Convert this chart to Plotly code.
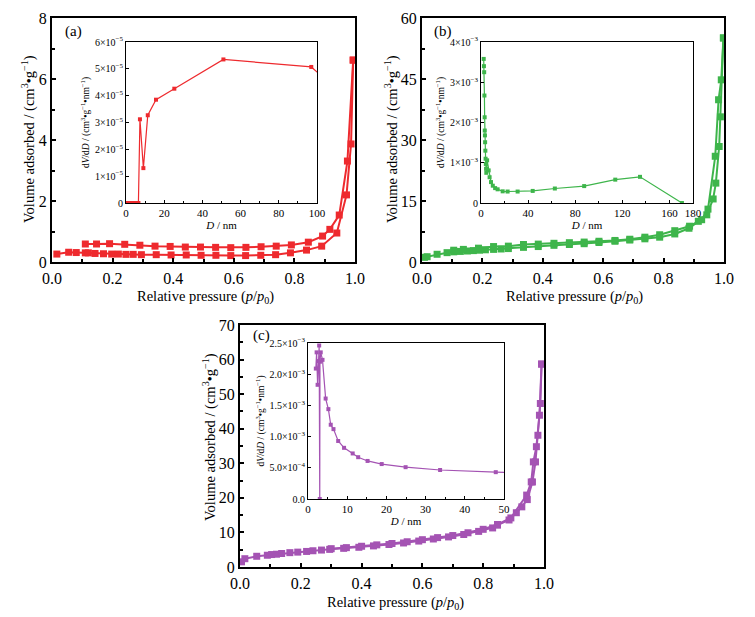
import plotly.graph_objects as go

# ---------------- data ----------------
# (a) isotherm
a_ads_p = [0.016, 0.055, 0.08, 0.11, 0.12, 0.142, 0.17, 0.197, 0.219, 0.244, 0.268, 0.295, 0.344,
           0.393, 0.443, 0.492, 0.541, 0.59, 0.639, 0.689, 0.738, 0.787, 0.84, 0.89, 0.94, 0.972,
           0.987, 0.994]
a_ads_v = [0.26, 0.32, 0.31, 0.30, 0.30, 0.28, 0.27, 0.26, 0.26, 0.25, 0.25, 0.24, 0.24,
           0.23, 0.23, 0.22, 0.22, 0.21, 0.21, 0.22, 0.24, 0.30, 0.39, 0.52, 0.95, 2.20,
           3.87, 6.62]
a_des_p = [0.994, 0.975, 0.948, 0.917, 0.893, 0.846, 0.79, 0.74, 0.69, 0.64, 0.59, 0.54, 0.49,
           0.44, 0.39, 0.34, 0.29, 0.24, 0.19, 0.147, 0.11]
a_des_v = [6.62, 3.31, 1.54, 1.07, 0.85, 0.65, 0.56, 0.52, 0.50, 0.48, 0.47, 0.48, 0.49,
           0.49, 0.51, 0.52, 0.55, 0.58, 0.60, 0.59, 0.59]
# (a) pore size distribution
a_psd_d = [0.5, 2.0, 3.5, 5.0, 6.5, 7.3, 9.1, 11.4, 15.7, 25.3, 51.0, 97.0, 104.0]
a_psd_v = [0, 0, 0, 0, 0, 3.12e-5, 1.30e-5, 3.27e-5, 3.85e-5, 4.26e-5, 5.35e-5, 5.07e-5, 4.63e-5]

# (b) isotherm
b_ads_p = [0.008, 0.017, 0.05, 0.083, 0.105, 0.127, 0.15, 0.17, 0.19, 0.21, 0.237, 0.262, 0.286,
           0.336, 0.385, 0.437, 0.488, 0.537, 0.586, 0.639, 0.688, 0.738, 0.787, 0.837, 0.884,
           0.915, 0.943, 0.964, 0.973, 0.984, 0.988, 0.998]
b_ads_v = [1.15, 1.3, 1.9, 2.3, 2.5, 2.6, 2.7, 2.8, 2.9, 3.0, 3.1, 3.2, 3.3,
           3.6, 3.8, 4.1, 4.3, 4.5, 4.8, 5.1, 5.4, 5.7, 6.1, 6.9, 8.3,
           10.0, 11.6, 15.5, 19.4, 28.4, 35.7, 55.1]
b_des_p = [0.998, 0.991, 0.982, 0.971, 0.947, 0.926, 0.886, 0.837, 0.787, 0.738, 0.688, 0.639,
           0.586, 0.537, 0.488, 0.437, 0.385, 0.336, 0.286, 0.237, 0.187, 0.137, 0.105]
b_des_v = [55.1, 44.8, 39.9, 26.0, 13.0, 10.4, 8.8, 7.7, 6.7, 6.1, 5.6, 5.3,
           5.1, 4.9, 4.75, 4.6, 4.4, 4.3, 3.9, 3.8, 3.4, 3.1, 2.9]
# (b) pore size distribution
b_psd_d = [2.3, 2.5, 2.7, 2.9, 3.1, 3.2, 3.35, 3.5, 3.7, 3.9, 4.1, 4.3, 4.5, 5.2, 6.5, 7.3, 8.5,
           10.0, 12.0, 14.1, 18.4, 22.6, 31.1, 43.9, 62.7, 87.6, 114.0, 135.0, 170.6]
b_psd_v = [3.58e-3, 3.40e-3, 3.25e-3, 2.67e-3, 2.13e-3, 1.80e-3, 1.68e-3, 1.51e-3, 1.30e-3,
           1.10e-3, 0.97e-3, 0.85e-3, 0.75e-3, 1.06e-3, 0.81e-3, 0.64e-3, 0.52e-3,
           0.43e-3, 0.37e-3, 0.34e-3, 0.29e-3, 0.285e-3, 0.285e-3, 0.30e-3, 0.36e-3, 0.42e-3,
           0.58e-3, 0.65e-3, 0.0]

# (c) isotherm
c_ads_p = [0.005, 0.016, 0.055, 0.09, 0.104, 0.12, 0.137, 0.164, 0.19, 0.219, 0.24, 0.268, 0.295,
           0.341, 0.391, 0.439, 0.49, 0.538, 0.588, 0.636, 0.686, 0.736, 0.785, 0.831, 0.847,
           0.885, 0.909, 0.927, 0.945, 0.962, 0.972, 0.98, 0.988, 0.992]
c_ads_v = [1.5, 2.4, 3.1, 3.4, 3.6, 3.7, 3.9, 4.15, 4.3, 4.5, 4.7, 4.9, 5.1,
           5.4, 5.7, 6.1, 6.5, 6.95, 7.5, 8.1, 8.7, 9.4, 10.3, 11.3, 12.1,
           13.6, 15.7, 17.4, 19.5, 24.6, 30.4, 38.1, 47.3, 58.7]
c_des_p = [0.992, 0.985, 0.975, 0.965, 0.958, 0.943, 0.891, 0.847, 0.8, 0.75, 0.7, 0.65, 0.6,
           0.55, 0.5, 0.45, 0.4, 0.35, 0.3]
c_des_v = [58.7, 43.9, 34.8, 30.4, 24.6, 20.8, 14.2, 12.3, 10.9, 9.9, 9.1, 8.5, 7.9,
           7.3, 6.8, 6.4, 6.0, 5.6, 5.3]
# (c) pore size distribution
c_psd_d = [2.0, 2.2, 2.45, 2.6, 2.85, 3.0, 3.05, 3.25, 3.7, 4.5, 5.2, 5.8, 6.5, 7.7, 9.2,
           11.4, 12.8, 15.2, 18.8, 24.9, 33.7, 47.9, 62.0]
c_psd_v = [2.09e-3, 2.35e-3, 1.83e-3, 2.21e-3, 2.46e-3, 0.0, 2.20e-3, 2.35e-3, 2.23e-3,
           1.61e-3, 1.44e-3, 1.19e-3, 1.12e-3, 0.93e-3, 0.82e-3, 0.73e-3, 0.67e-3, 0.61e-3,
           0.56e-3, 0.51e-3, 0.465e-3, 0.43e-3, 0.40e-3]

# tick labels
a_main_yticks = [0, 2, 4, 6, 8]
b_main_yticks = [0, 15, 30, 45, 60]
c_main_yticks = [0, 10, 20, 30, 40, 50, 60, 70]
main_xticks = [0.0, 0.2, 0.4, 0.6, 0.8, 1.0]
a_in_xticks = [0, 20, 40, 60, 80, 100]
b_in_xticks = [0, 40, 80, 120, 160, 180]
c_in_xticks = [0, 10, 20, 30, 40, 50]
a_in_yvals = [0, 1e-5, 2e-5, 3e-5, 4e-5, 5e-5, 6e-5]
a_in_ytext = ["0", "1×10<sup>−5</sup>", "2×10<sup>−5</sup>", "3×10<sup>−5</sup>",
              "4×10<sup>−5</sup>", "5×10<sup>−5</sup>", "6×10<sup>−5</sup>"]
b_in_yvals = [0, 1e-3, 2e-3, 3e-3, 4e-3]
b_in_ytext = ["0", "1×10<sup>−3</sup>", "2×10<sup>−3</sup>", "3×10<sup>−3</sup>", "4×10<sup>−3</sup>"]
c_in_yvals = [0, 5e-4, 1e-3, 1.5e-3, 2e-3, 2.5e-3]
c_in_ytext = ["0.0", "5.0×10<sup>−4</sup>", "1.0×10<sup>−3</sup>", "1.5×10<sup>−3</sup>",
              "2.0×10<sup>−3</sup>", "2.5×10<sup>−3</sup>"]

RED = "#EE2A2E"
GREEN = "#3EB54B"
PURPLE = "#A453B3"
FONT = "Times New Roman, Liberation Serif, DejaVu Serif, serif"

W, H = 755, 617


def fx(px):
    return px / W


def fy(py):
    return 1 - py / H


fig = go.Figure()


def main_trace(x, y, color, xa, ya):
    fig.add_trace(go.Scatter(x=x, y=y, mode="lines+markers", xaxis=xa, yaxis=ya,
                             line=dict(color=color, width=2),
                             marker=dict(symbol="square", size=7, color=color),
                             showlegend=False))


def inset_trace(x, y, color, xa, ya):
    fig.add_trace(go.Scatter(x=x, y=y, mode="lines+markers", xaxis=xa, yaxis=ya,
                             line=dict(color=color, width=1.2),
                             marker=dict(symbol="square", size=4, color=color),
                             showlegend=False))


main_trace(a_ads_p, a_ads_v, RED, "x", "y")
main_trace(a_des_p, a_des_v, RED, "x", "y")
inset_trace(a_psd_d, a_psd_v, RED, "x2", "y2")
main_trace(b_ads_p, b_ads_v, GREEN, "x3", "y3")
main_trace(b_des_p, b_des_v, GREEN, "x3", "y3")
inset_trace(b_psd_d, b_psd_v, GREEN, "x4", "y4")
main_trace(c_ads_p, c_ads_v, PURPLE, "x5", "y5")
main_trace(c_des_p, c_des_v, PURPLE, "x5", "y5")
inset_trace(c_psd_d, c_psd_v, PURPLE, "x6", "y6")

xtitle = "Relative pressure (<i>p</i>/<i>p</i><sub>0</sub>)"
ytitle = "Volume adsorbed / (cm<sup>3</sup>•g<sup>−1</sup>)"
in_ytitle = "d<i>V</i>/d<i>D</i> / (cm<sup>3</sup>•g<sup>−1</sup>•nm<sup>−1</sup>)"
in_xtitle = "<i>D</i> / nm"


def main_axes(dom_x, dom_y, yrange, yticks, anchor_x, anchor_y, ydtick_minor):
    xa = dict(domain=dom_x, range=[0, 1.0], tickvals=main_xticks,
              ticktext=["%.1f" % v for v in main_xticks], automargin=False,
              showline=True, linecolor="black", linewidth=2.2, mirror=True,
              ticks="inside", ticklen=4, tickwidth=1.5, tickcolor="black",
              ticklabelstandoff=1,
              minor=dict(ticks="inside", ticklen=3, dtick=0.1, tickcolor="black", tickwidth=1.5),
              showgrid=False, zeroline=False, anchor=anchor_y,
              tickfont=dict(family=FONT, size=16, color="black"))
    ya = dict(domain=dom_y, range=yrange, tickvals=yticks, automargin=False,
              showline=True, linecolor="black", linewidth=2.2, mirror=True,
              ticks="inside", ticklen=4, tickwidth=1.5, tickcolor="black",
              minor=dict(ticks="inside", ticklen=3, dtick=ydtick_minor, tickcolor="black", tickwidth=1.5),
              showgrid=False, zeroline=False, anchor=anchor_x,
              tickfont=dict(family=FONT, size=16, color="black"))
    return xa, ya


def inset_axes(dom_x, dom_y, xrange, xticks, xminor, yrange, yvals, ytext, anchor_x, anchor_y):
    xa = dict(domain=dom_x, range=xrange, tickvals=xticks, automargin=False,
              showline=True, linecolor="black", linewidth=1, mirror=True,
              ticks="inside", ticklen=3, tickcolor="black",
              minor=dict(ticks="inside", ticklen=2, dtick=xminor, tickcolor="black"),
              showgrid=False, zeroline=False, anchor=anchor_y,
              tickfont=dict(family=FONT, size=11, color="black"),
              title=dict(text=in_xtitle, font=dict(family=FONT, size=11, color="black"), standoff=2))
    ya = dict(domain=dom_y, range=yrange, tickvals=yvals, ticktext=ytext, automargin=False,
              showline=True, linecolor="black", linewidth=1, mirror=True,
              ticks="inside", ticklen=3, tickcolor="black",
              showgrid=False, zeroline=False, anchor=anchor_x,
              tickfont=dict(family=FONT, size=10, color="black"),
              title=dict(text=in_ytitle, font=dict(family=FONT, size=9.5, color="black"), standoff=3))
    return xa, ya


xa1, ya1 = main_axes([fx(52), fx(355)], [fy(262), fy(18)], [0, 8], a_main_yticks, "x", "y", 1)
xa2, ya2 = inset_axes([fx(126), fx(317)], [fy(203), fy(42)], [0, 100], a_in_xticks, 10,
                      [0, 6e-5], a_in_yvals, a_in_ytext, "x2", "y2")
xa3, ya3 = main_axes([fx(422), fx(724)], [fy(262), fy(18)], [0, 60], b_main_yticks, "x3", "y3", 7.5)
xa4, ya4 = inset_axes([fx(481), fx(693)], [fy(203), fy(42)], [0, 180], b_in_xticks, 20,
                      [0, 4e-3], b_in_yvals, b_in_ytext, "x4", "y4")
xa5, ya5 = main_axes([fx(240), fx(544)], [fy(567), fy(325)], [0, 70], c_main_yticks, "x5", "y5", 5)
xa6, ya6 = inset_axes([fx(308), fx(504)], [fy(499), fy(343)], [0, 50], c_in_xticks, 5,
                      [0, 2.5e-3], c_in_yvals, c_in_ytext, "x6", "y6")

fig.update_layout(
    template="none",
    width=W, height=H,
    margin=dict(l=0, r=0, t=0, b=0, pad=0),
    paper_bgcolor="white", plot_bgcolor="white",
    font=dict(family=FONT, color="black"),
    xaxis=xa1, yaxis=ya1, xaxis2=xa2, yaxis2=ya2,
    xaxis3=xa3, yaxis3=ya3, xaxis4=xa4, yaxis4=ya4,
    xaxis5=xa5, yaxis5=ya5, xaxis6=xa6, yaxis6=ya6,
)

for label, px, py in [("(a)", 63, 31), ("(b)", 432, 31), ("(c)", 251, 336)]:
    fig.add_annotation(text=label, x=fx(px), y=fy(py), xref="paper", yref="paper",
                       xanchor="left", yanchor="middle", showarrow=False,
                       font=dict(family=FONT, size=15, color="black"))

# main axis titles
for px, py in [(205, 297), (574, 297), (396, 603)]:
    fig.add_annotation(text=xtitle, x=fx(px), y=fy(py), xref="paper", yref="paper",
                       xanchor="center", yanchor="middle", showarrow=False,
                       font=dict(family=FONT, size=14.5, color="black"))
for px, py in [(28, 139), (391, 139), (209, 437)]:
    fig.add_annotation(text=ytitle, x=fx(px), y=fy(py), xref="paper", yref="paper",
                       xanchor="center", yanchor="middle", showarrow=False, textangle=-90,
                       font=dict(family=FONT, size=14.5, color="black"))

fig.write_html("out.html", config={"displayModeBar": False},
               post_script="document.body.style.margin='0px';document.body.style.padding='0px';")
